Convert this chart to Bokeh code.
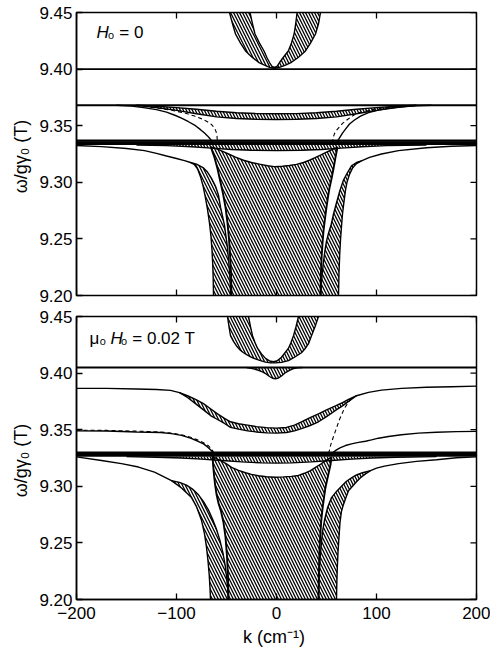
import math
from bokeh.plotting import figure
from bokeh.layouts import column
from bokeh.models import Range1d, FixedTicker, Label, Span, PrintfTickFormatter
from bokeh.embed import file_html
from bokeh.resources import INLINE

# ---------------- axes ----------------
K_RANGE = [-200, 200]
W_RANGE = [9.20, 9.45]
W_TICKS = [9.20, 9.25, 9.30, 9.35, 9.40, 9.45]
K_TICKS = [-200, -100, 0, 100, 200]

# ================= panel (a): H0 = 0 =================
T0_U_OUT_K = [-47, -44, -41, -36, -31, -25, -18, -12, -7, -2, 3, 9, 15, 22, 29, 34, 39, 42, 44]
T0_U_OUT_W = [9.450, 9.440, 9.431, 9.423, 9.416, 9.411, 9.406, 9.4035, 9.4015, 9.4008, 9.4015, 9.4035, 9.406, 9.4105, 9.416, 9.423, 9.431, 9.440, 9.450]
T0_U_IN_K = [-26.5, -24, -21.5, -17, -12.5, -9.5, -7, -4.5, -2, 0.5, 3, 6.5, 11.8, 15, 17.6, 19.2, 20.6]
T0_U_IN_W = [9.450, 9.440, 9.431, 9.423, 9.416, 9.410, 9.4058, 9.4025, 9.4015, 9.4025, 9.4058, 9.410, 9.416, 9.423, 9.431, 9.440, 9.450]
T0_FLAT_W = [9.400, 9.368]
T0_THICK_W = [9.3368, 9.3354, 9.3340]

T0_BAND_K = [-140, -120, -100, -80, -60, -40, -20, 0, 20, 40, 60, 80, 100, 120, 140]
T0_BAND_TOP_W = [9.368, 9.3672, 9.3660, 9.3645, 9.3628, 9.3615, 9.3607, 9.3605, 9.3607, 9.3615, 9.3628, 9.3645, 9.3660, 9.3672, 9.368]
T0_BAND_BOT_W = [9.368, 9.3660, 9.3635, 9.3605, 9.3578, 9.3563, 9.3557, 9.3555, 9.3557, 9.3563, 9.3578, 9.3605, 9.3635, 9.3660, 9.368]

T0_SL_K = [-160, -145, -133, -120, -110, -101, -95, -88, -81, -76, -72, -69, -66.5, -64.5, -63]
T0_SL_W = [9.368, 9.3673, 9.366, 9.3642, 9.3620, 9.3590, 9.3567, 9.3535, 9.3500, 9.3465, 9.3435, 9.3410, 9.3385, 9.3362, 9.3345]
T0_SR_K = [60, 61.5, 63.5, 66, 69, 73, 78, 84, 92, 102, 113, 125, 140, 155]
T0_SR_W = [9.3345, 9.337, 9.340, 9.3435, 9.347, 9.3515, 9.355, 9.3585, 9.3615, 9.3638, 9.3655, 9.3667, 9.3676, 9.368]
T0_DL_K = [-140, -120, -101, -90, -82, -74.5, -69, -65, -62, -60.5, -59.5, -59]
T0_DL_W = [9.3675, 9.3658, 9.363, 9.3607, 9.3585, 9.356, 9.3535, 9.351, 9.348, 9.345, 9.341, 9.3345]
T0_DR_K = [56, 56.5, 58, 60, 63, 66, 71, 80, 90, 100, 115, 130]
T0_DR_W = [9.3345, 9.339, 9.343, 9.346, 9.349, 9.352, 9.3555, 9.361, 9.363, 9.365, 9.3665, 9.3675]

T0_TB_K = [-140, -110, -85, -65, -45, -25, 0, 25, 45, 65, 85, 110, 150]
T0_TB_TOP_W = [9.3330, 9.3330, 9.3330, 9.3330, 9.3330, 9.3330, 9.3330, 9.3330, 9.3330, 9.3330, 9.3330, 9.3330, 9.3330]
T0_TB_BOT_W = [9.3330, 9.3324, 9.3314, 9.3302, 9.3290, 9.3283, 9.3280, 9.3283, 9.3290, 9.3302, 9.3314, 9.3324, 9.3330]

T0_CT_K = [-65.7, -61, -55, -48, -41, -33, -25, -17, -9, -2, 6, 13, 20, 27, 33, 38, 44, 50, 55, 59, 61]
T0_CT_W = [9.3312, 9.3300, 9.3277, 9.3250, 9.3222, 9.3195, 9.3175, 9.3160, 9.3146, 9.3138, 9.3142, 9.3148, 9.3158, 9.3175, 9.3195, 9.3215, 9.3240, 9.3266, 9.3287, 9.3302, 9.3312]
T0_CR_K = [61, 59, 57, 55, 53, 51.5, 50, 48.5, 47, 46, 45, 44.3, 44]
T0_CR_W = [9.3312, 9.322, 9.312, 9.303, 9.295, 9.287, 9.278, 9.268, 9.257, 9.246, 9.232, 9.216, 9.200]
T0_CL_K = [-45, -45.5, -46.5, -47.5, -49, -51, -53.5, -56, -59, -62, -65.7]
T0_CL_W = [9.200, 9.220, 9.236, 9.250, 9.264, 9.278, 9.290, 9.300, 9.312, 9.322, 9.3312]

T0_LO_K = [-200, -175, -150, -132, -120, -110, -100, -92, -86, -82, -79, -76, -73.5, -71, -69, -67, -65.5, -64.5, -63.8, -63.3, -63]
T0_LO_W = [9.3325, 9.3315, 9.3298, 9.328, 9.3255, 9.3232, 9.321, 9.3192, 9.3175, 9.3155, 9.312, 9.305, 9.297, 9.286, 9.276, 9.264, 9.252, 9.240, 9.228, 9.215, 9.200]
T0_LI_K = [-86, -80, -73.5, -69, -65, -61, -58, -56, -54, -52, -50.5, -49, -48, -47, -46.3, -46]
T0_LI_W = [9.3175, 9.3160, 9.3130, 9.3090, 9.3035, 9.2965, 9.2885, 9.2780, 9.2700, 9.2620, 9.2520, 9.2420, 9.2320, 9.2220, 9.2110, 9.2000]
T0_RO_K = [200, 175, 150, 122, 105, 93, 85, 80, 76, 73, 70.5, 69, 67.5, 66, 65, 64, 63.2, 62.5, 62]
T0_RO_W = [9.3325, 9.3318, 9.3305, 9.328, 9.325, 9.322, 9.319, 9.3165, 9.3125, 9.307, 9.300, 9.293, 9.283, 9.272, 9.261, 9.249, 9.236, 9.220, 9.200]
T0_RI_K = [85, 80, 75, 70.6, 67, 63.5, 60, 57, 54.5, 52, 50, 48.5, 47, 45.8, 44.8, 44.3]
T0_RI_W = [9.319, 9.3175, 9.3145, 9.308, 9.302, 9.293, 9.282, 9.272, 9.262, 9.255, 9.248, 9.240, 9.230, 9.220, 9.210, 9.200]

# ================= panel (b): mu0 H0 = 0.02 T =================
B_U_OUT_K = [-49, -47.5, -46, -43, -40, -36.5, -33, -29, -25, -20.5, -16, -11, -6, -1, 5, 9, 12, 15, 18, 21.5, 25, 28.5, 32, 35, 38.5, 42]
B_U_OUT_W = [9.450, 9.441, 9.433, 9.428, 9.424, 9.4205, 9.418, 9.4158, 9.414, 9.4123, 9.411, 9.4097, 9.409, 9.409, 9.4095, 9.4103, 9.411, 9.4125, 9.414, 9.416, 9.418, 9.4215, 9.426, 9.433, 9.441, 9.450]
B_U_IN_K = [-28, -26, -24, -21.5, -19, -15, -11, -7, -3, 1, 5, 8.5, 12, 14.5, 17, 19.5, 22]
B_U_IN_W = [9.450, 9.441, 9.433, 9.427, 9.422, 9.417, 9.413, 9.4108, 9.4100, 9.411, 9.414, 9.418, 9.422, 9.427, 9.433, 9.441, 9.450]
B_FLAT_W = [9.405]
B_THICK_W = [9.3298, 9.3284, 9.3270]

B_DIP_K = [-30, -24, -18, -14, -10, -7, -4, -1, 2, 5, 9, 13, 17, 21, 26]
B_DIP_W = [9.405, 9.404, 9.4025, 9.401, 9.399, 9.397, 9.3955, 9.395, 9.3957, 9.3975, 9.4005, 9.4025, 9.404, 9.4047, 9.405]

B_BT_K = [-200, -170, -140, -120, -106, -97, -89, -81, -73, -66, -59, -52, -46, -38, -29, -20, -10, 0, 10, 18, 25, 33, 42, 50, 59, 66, 72, 80, 92, 105, 125, 150, 175, 200]
B_BT_W = [9.3865, 9.3865, 9.386, 9.3855, 9.3847, 9.3828, 9.380, 9.3768, 9.373, 9.3685, 9.364, 9.3600, 9.357, 9.3553, 9.3540, 9.3527, 9.3518, 9.3514, 9.3520, 9.354, 9.357, 9.3605, 9.364, 9.3675, 9.371, 9.374, 9.3767, 9.380, 9.383, 9.385, 9.3865, 9.3875, 9.388, 9.3885]
B_BB_K = [-97, -89, -81, -73, -66, -59, -52, -46, -38, -29, -20, -10, 0, 10, 18, 25, 33, 42, 50, 59, 66, 72, 80]
B_BB_W = [9.3828, 9.3785, 9.373, 9.3675, 9.3625, 9.359, 9.3555, 9.352, 9.3505, 9.349, 9.348, 9.3472, 9.347, 9.3475, 9.349, 9.351, 9.3535, 9.357, 9.3615, 9.367, 9.371, 9.375, 9.380]

B_DR_K = [52, 53, 54, 55.5, 57, 59, 61, 63, 65.5, 68, 71, 74]
B_DR_W = [9.329, 9.332, 9.336, 9.340, 9.344, 9.349, 9.354, 9.359, 9.364, 9.369, 9.373, 9.3765]
B_SL_K = [-200, -170, -140, -116, -105, -95, -86, -79, -73, -69, -66, -63.5, -61.5]
B_SL_W = [9.349, 9.3488, 9.348, 9.3475, 9.3465, 9.345, 9.3425, 9.340, 9.3375, 9.3348, 9.3322, 9.3300, 9.3285]
B_DL_K = [-200, -170, -140, -116, -105, -95, -86, -79, -73, -68, -65, -63]
B_DL_W = [9.3496, 9.3494, 9.3487, 9.348, 9.347, 9.3456, 9.3433, 9.341, 9.3385, 9.3358, 9.333, 9.3300]
B_SR_K = [55, 57, 60, 64, 69, 75, 82, 89, 95, 102, 112, 125, 142, 160, 180, 200]
B_SR_W = [9.328, 9.3302, 9.3322, 9.3342, 9.336, 9.3375, 9.3388, 9.3398, 9.3410, 9.3425, 9.3440, 9.3455, 9.347, 9.3478, 9.3483, 9.3485]

B_TB_K = [-150, -120, -95, -75, -55, -35, -15, 0, 15, 35, 55, 75, 95, 120, 160]
B_TB_TOP_W = [9.3262, 9.3262, 9.3262, 9.3262, 9.3262, 9.3262, 9.3262, 9.3262, 9.3262, 9.3262, 9.3262, 9.3262, 9.3262, 9.3262, 9.3262]
B_TB_BOT_W = [9.3262, 9.3257, 9.3250, 9.3240, 9.3228, 9.3216, 9.3207, 9.3205, 9.3207, 9.3216, 9.3228, 9.3240, 9.3250, 9.3257, 9.3262]

B_CT_K = [-64, -60, -55, -50, -45, -38, -31, -25, -18, -10, -1, 7, 15, 22, 28, 34, 39, 44, 48, 52, 55]
B_CT_W = [9.3265, 9.3245, 9.3222, 9.3198, 9.3167, 9.3140, 9.3120, 9.3105, 9.3093, 9.3084, 9.308, 9.3083, 9.3088, 9.3096, 9.3115, 9.3138, 9.3167, 9.3195, 9.3220, 9.3242, 9.3258]
B_CR_K = [55, 54, 53, 52, 50.5, 49, 47.5, 46, 44.8, 43.8, 43, 42.4, 42]
B_CR_W = [9.3258, 9.319, 9.315, 9.311, 9.305, 9.299, 9.290, 9.280, 9.270, 9.257, 9.243, 9.224, 9.200]
B_CL_K = [-48, -48.5, -49.5, -51, -53, -55.5, -58, -60, -61.5, -62.5, -63.3, -64]
B_CL_W = [9.200, 9.220, 9.238, 9.255, 9.268, 9.278, 9.285, 9.293, 9.302, 9.310, 9.318, 9.3265]

B_LO_K = [-200, -175, -155, -138, -122, -105, -95, -85, -80, -75, -72, -70, -68.5, -67.3, -66.5, -66]
B_LO_W = [9.326, 9.3228, 9.3200, 9.317, 9.3125, 9.305, 9.2985, 9.290, 9.282, 9.270, 9.258, 9.246, 9.234, 9.222, 9.210, 9.200]
B_LI_K = [-105, -97, -90, -84, -78, -73, -68, -64, -60, -56.5, -53.5, -51.3, -49.8, -48.8, -48.3]
B_LI_W = [9.305, 9.3035, 9.301, 9.2975, 9.2925, 9.2865, 9.279, 9.271, 9.262, 9.252, 9.241, 9.230, 9.219, 9.209, 9.200]
B_RO_K = [200, 180, 160, 140, 122, 108, 100, 94, 89, 84, 80, 76, 72, 69, 67, 65, 63.5, 62.5, 61.5, 60.8, 60.3, 60]
B_RO_W = [9.326, 9.3252, 9.3235, 9.322, 9.320, 9.3178, 9.316, 9.3138, 9.311, 9.3075, 9.304, 9.300, 9.296, 9.289, 9.284, 9.278, 9.268, 9.255, 9.242, 9.228, 9.214, 9.200]
B_RI_K = [94, 86, 80, 75, 70, 65, 60, 55, 51, 48, 46, 44.5, 43.3, 42.5, 42]
B_RI_W = [9.3138, 9.312, 9.310, 9.3075, 9.3045, 9.300, 9.2955, 9.290, 9.281, 9.270, 9.260, 9.246, 9.232, 9.216, 9.200]

FONT = "Liberation Sans"
INK = "black"
HATCH = dict(fill_color=None, line_color=None, hatch_pattern="\\", hatch_color=INK,
             hatch_scale=6.0, hatch_weight=1.3)
LW = 1.4
TICK_LEN = 6


def edge_ticks(p, bottom_ticks):
    # inner ticks along the top and right frame edges (and bottom when no labelled axis)
    n_k, n_w = len(K_TICKS), len(W_TICKS)
    p.ray(x=K_TICKS, y=[W_RANGE[1]] * n_k, length=TICK_LEN, length_units="screen",
          angle=-math.pi / 2, line_color=INK, line_width=1.3)
    p.ray(x=[K_RANGE[1]] * n_w, y=W_TICKS, length=TICK_LEN, length_units="screen",
          angle=math.pi, line_color=INK, line_width=1.3)
    if bottom_ticks:
        p.ray(x=K_TICKS, y=[W_RANGE[0]] * n_k, length=TICK_LEN, length_units="screen",
              angle=math.pi / 2, line_color=INK, line_width=1.3)


def style_label_text(ax):
    ax.axis_label_text_font = FONT
    ax.axis_label_text_font_style = "normal"
    ax.axis_label_text_font_size = "18px"
    ax.axis_label_text_color = INK


def make_fig(height, border_left, border_top, border_bottom, show_x_axis):
    p = figure(width=490, height=height, output_backend="svg", toolbar_location=None,
               x_range=Range1d(K_RANGE[0], K_RANGE[1]), y_range=Range1d(W_RANGE[0], W_RANGE[1]),
               min_border_left=border_left, min_border_right=14,
               min_border_top=border_top, min_border_bottom=border_bottom,
               x_axis_type="linear" if show_x_axis else None)
    p.grid.visible = False
    p.outline_line_color = INK
    p.outline_line_width = 1.5
    axes = [p.yaxis[0]] + ([p.xaxis[0]] if show_x_axis else [])
    for ax in axes:
        ax.major_tick_in = TICK_LEN
        ax.major_tick_out = 0
        ax.minor_tick_in = 0
        ax.minor_tick_out = 0
        ax.axis_line_width = 1.5
        ax.axis_line_color = INK
        ax.major_tick_line_width = 1.3
        ax.major_tick_line_color = INK
        ax.major_label_text_font = FONT
        ax.major_label_text_font_size = "17px"
        ax.major_label_text_color = INK
    p.yaxis[0].ticker = FixedTicker(ticks=W_TICKS)
    p.yaxis[0].formatter = PrintfTickFormatter(format="%.2f")
    p.yaxis[0].major_label_standoff = 4
    p.yaxis[0].axis_label = "ω/gγ₀  (T)"
    style_label_text(p.yaxis[0])
    p.yaxis[0].axis_label_standoff = 5
    if show_x_axis:
        p.xaxis[0].ticker = FixedTicker(ticks=K_TICKS)
        p.xaxis[0].major_label_standoff = 7
        p.xaxis[0].axis_label = "k  (cm⁻¹)"
        style_label_text(p.xaxis[0])
        p.xaxis[0].axis_label_standoff = 5
    edge_ticks(p, not show_x_axis)
    return p


def band(p, k1, w1, k2, w2):
    p.patch(list(k1) + list(k2)[::-1], list(w1) + list(w2)[::-1], **HATCH)


def side_band(p, out_k, out_w, in_k, in_w, left):
    start = in_k[0]
    sel = [(k, w) for k, w in zip(out_k, out_w) if (k >= start if left else k <= start)]
    ok = [s[0] for s in sel]
    ow = [s[1] for s in sel]
    p.patch(ok + list(in_k)[::-1], ow + list(in_w)[::-1], **HATCH)
    p.line(out_k, out_w, line_color=INK, line_width=LW)
    p.line(in_k, in_w, line_color=INK, line_width=LW)


def central(p, tk, tw, rk, rw, lk, lw):
    p.patch(list(tk) + list(rk) + list(lk), list(tw) + list(rw) + list(lw), **HATCH)
    p.line(tk, tw, line_color=INK, line_width=LW)
    p.line(rk, rw, line_color=INK, line_width=1.9)
    p.line(lk, lw, line_color=INK, line_width=1.9)


def text(p, x, y, s, italic=False):
    p.add_layout(Label(x=x, y=y, text=s, text_font=FONT, text_color=INK,
                       text_font_style="italic" if italic else "normal",
                       text_font_size="17px", text_baseline="middle"))


# ---------- panel (a) ----------
p1 = make_fig(305, 72, 12, 10, False)
band(p1, T0_U_OUT_K, T0_U_OUT_W, T0_U_IN_K, T0_U_IN_W)
p1.line(T0_U_OUT_K, T0_U_OUT_W, line_color=INK, line_width=LW)
p1.line(T0_U_IN_K, T0_U_IN_W, line_color=INK, line_width=LW)
band(p1, T0_BAND_K, T0_BAND_TOP_W, T0_BAND_K, T0_BAND_BOT_W)
p1.line(T0_BAND_K, T0_BAND_TOP_W, line_color=INK, line_width=LW)
p1.line(T0_BAND_K, T0_BAND_BOT_W, line_color=INK, line_width=LW)
band(p1, T0_TB_K, T0_TB_TOP_W, T0_TB_K, T0_TB_BOT_W)
p1.line(T0_TB_K, T0_TB_BOT_W, line_color=INK, line_width=LW)
central(p1, T0_CT_K, T0_CT_W, T0_CR_K, T0_CR_W, T0_CL_K, T0_CL_W)
side_band(p1, T0_LO_K, T0_LO_W, T0_LI_K, T0_LI_W, True)
side_band(p1, T0_RO_K, T0_RO_W, T0_RI_K, T0_RI_W, False)
p1.line(T0_SL_K, T0_SL_W, line_color=INK, line_width=LW)
p1.line(T0_SR_K, T0_SR_W, line_color=INK, line_width=LW)
p1.line(T0_DL_K, T0_DL_W, line_color=INK, line_width=1.1, line_dash="4 3")
p1.line(T0_DR_K, T0_DR_W, line_color=INK, line_width=1.1, line_dash="4 3")
for w in T0_FLAT_W:
    p1.add_layout(Span(location=w, dimension="width", line_color=INK, line_width=1.9))
for w in T0_THICK_W:
    p1.add_layout(Span(location=w, dimension="width", line_color=INK, line_width=2.2))
text(p1, -180, 9.4323, "H", italic=True)
text(p1, -169, 9.4323, "₀ = 0")

# ---------- panel (b) ----------
p2 = make_fig(348, 76, 11, 54, True)
band(p2, B_U_OUT_K, B_U_OUT_W, B_U_IN_K, B_U_IN_W)
p2.line(B_U_OUT_K, B_U_OUT_W, line_color=INK, line_width=LW)
p2.line(B_U_IN_K, B_U_IN_W, line_color=INK, line_width=LW)
p2.patch(B_DIP_K, B_DIP_W, **HATCH)
p2.line(B_DIP_K, B_DIP_W, line_color=INK, line_width=LW)
sel_top = [(k, w) for k, w in zip(B_BT_K, B_BT_W) if B_BB_K[0] <= k <= B_BB_K[-1]]
band(p2, [s[0] for s in sel_top], [s[1] for s in sel_top], B_BB_K, B_BB_W)
p2.line(B_BT_K, B_BT_W, line_color=INK, line_width=LW)
p2.line(B_BB_K, B_BB_W, line_color=INK, line_width=LW)
band(p2, B_TB_K, B_TB_TOP_W, B_TB_K, B_TB_BOT_W)
p2.line(B_TB_K, B_TB_BOT_W, line_color=INK, line_width=LW)
central(p2, B_CT_K, B_CT_W, B_CR_K, B_CR_W, B_CL_K, B_CL_W)
side_band(p2, B_LO_K, B_LO_W, B_LI_K, B_LI_W, True)
side_band(p2, B_RO_K, B_RO_W, B_RI_K, B_RI_W, False)
p2.line(B_SL_K, B_SL_W, line_color=INK, line_width=LW)
p2.line(B_SR_K, B_SR_W, line_color=INK, line_width=LW)
p2.line(B_DL_K, B_DL_W, line_color=INK, line_width=1.1, line_dash="4 3")
p2.line(B_DR_K, B_DR_W, line_color=INK, line_width=1.1, line_dash="4 3")
for w in B_FLAT_W:
    p2.add_layout(Span(location=w, dimension="width", line_color=INK, line_width=1.9))
for w in B_THICK_W:
    p2.add_layout(Span(location=w, dimension="width", line_color=INK, line_width=2.2))
text(p2, -187, 9.4306, "μ₀")
text(p2, -166, 9.4306, "H", italic=True)
text(p2, -156, 9.4306, "₀ = 0.02  T")

layout = column(p1, p2, spacing=0)
open("out.html", "w").write(file_html(layout, INLINE))
